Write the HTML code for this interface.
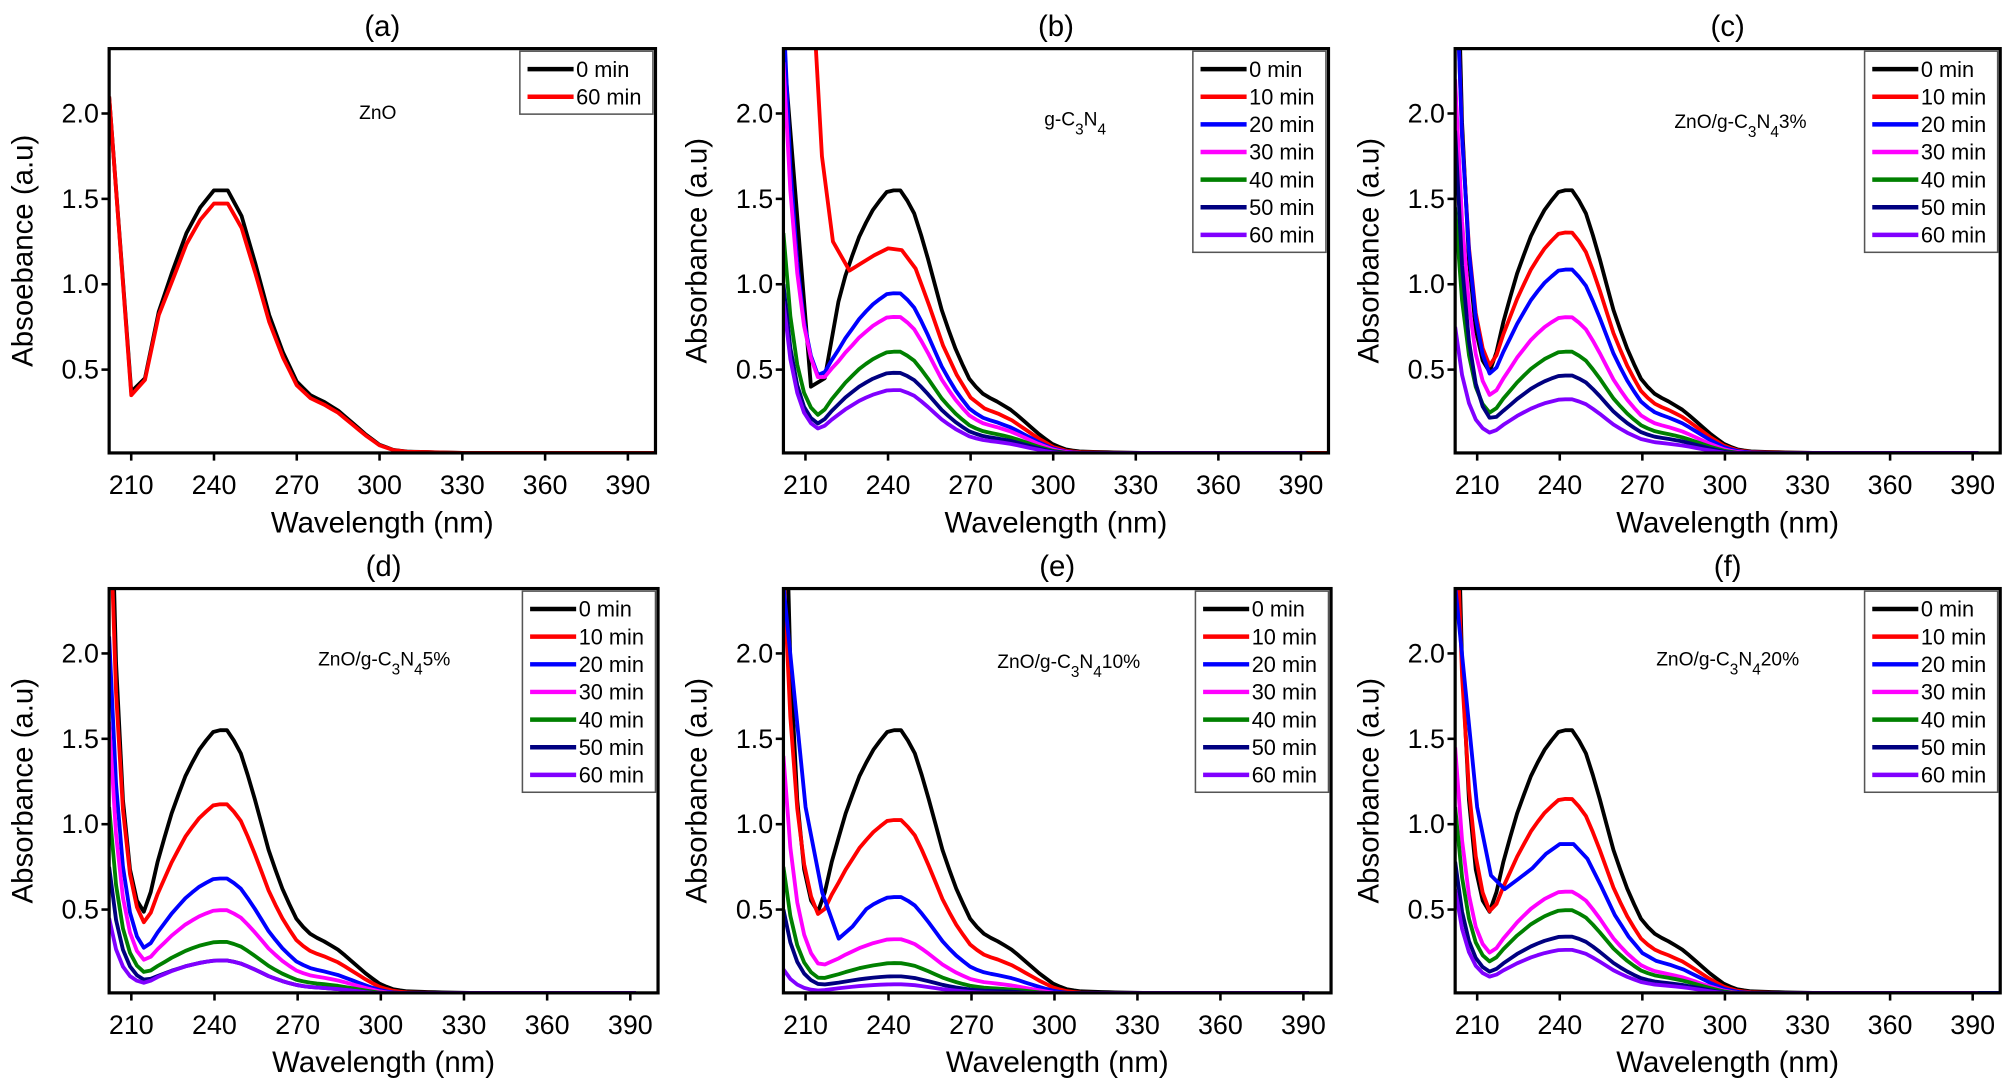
<!DOCTYPE html>
<html><head><meta charset="utf-8"><style>
html,body{margin:0;padding:0;background:#fff;}
svg{display:block;font-family:"Liberation Sans",sans-serif;}
</style></head><body>
<svg id="s" width="2007" height="1085" viewBox="0 0 1568 848" xmlns="http://www.w3.org/2000/svg"></svg>
<script>
const svg=document.getElementById('s');
let out='';
const P=[[200,0.05],[205,0.12],[210,0.22],[215,0.35],[220,0.78],[225,1.08],[230,1.3],[235,1.45],[240,1.55],[245,1.55],[250,1.4],[255,1.12],[260,0.82],[265,0.6],[270,0.43],[275,0.35],[280,0.31],[285,0.26],[290,0.19],[295,0.12],[300,0.06],[305,0.03],[310,0.02],[330,0.012],[400,0.008]];
function Pf(l){for(let i=0;i<P.length-1;i++){if(l>=P[i][0]&&l<=P[i+1][0]){const t=(l-P[i][0])/(P[i+1][0]-P[i][0]);return P[i][1]+t*(P[i+1][1]-P[i][1]);}}return 0.008;}
const C=['#000','#ff0000','#0000ff','#ff00ff','#008000','#000080','#8000ff'];
const L=['0 min','10 min','20 min','30 min','40 min','50 min','60 min'];
function panel(o){
 const {x0,x1,y0,y1,title,ann,ax,ay,series,ylab,legN}=o;
 const X=l=>x0+(l-202)*(x1-x0)/198;
 const Y=v=>y1-(v-0.012)*(y1-y0)/2.368;
 out+=`<defs><clipPath id="c${title}"><rect x="${x0}" y="${y0}" width="${x1-x0}" height="${y1-y0}"/></clipPath></defs>`;
 let g=`<g clip-path="url(#c${title})" fill="none" stroke-width="3" stroke-linejoin="round">`;
 series.forEach((s,i)=>{
  const [f,st,k,col,pre]=s;
  let pts=[];let startL=202;
  if(pre){pre.forEach(p=>pts.push([X(p[0]),Y(p[1])]));startL=pre[pre.length-1][0]+5;}
  for(let l=startL;l<=400;l+=(l<320?2.5:10)){
   let v=f*Pf(l)+(st-f*Pf(202))*Math.exp(-(l-202)/k);
   pts.push([X(l),Y(Math.max(v,0.012))]);
  }
  g+=`<polyline stroke="${col}" points="${pts.map(p=>p[0].toFixed(1)+','+p[1].toFixed(1)).join(' ')}"/>`;
 });
 g+='</g>';out+=g;
 out+=`<rect x="${x0}" y="${y0}" width="${x1-x0}" height="${y1-y0}" fill="none" stroke="#000" stroke-width="2.5"/>`;
 for(let t=210;t<=390;t+=30){const x=X(t);out+=`<line x1="${x}" y1="${y1}" x2="${x}" y2="${y1+6}" stroke="#000" stroke-width="2"/><text x="${x}" y="${y1+32}" font-size="21" text-anchor="middle">${t}</text>`;}
 [0.5,1.0,1.5,2.0].forEach(v=>{const y=Y(v);out+=`<line x1="${x0-6}" y1="${y}" x2="${x0}" y2="${y}" stroke="#000" stroke-width="2"/><text x="${x0-8}" y="${y+7}" font-size="21" text-anchor="end">${v.toFixed(1)}</text>`;});
 out+=`<text x="${(x0+x1)/2}" y="${y1+62}" font-size="23" text-anchor="middle">Wavelength (nm)</text>`;
 out+=`<text transform="translate(${x0-60},${(y0+y1)/2}) rotate(-90)" font-size="23" text-anchor="middle">${ylab}</text>`;
 out+=`<text x="${(x0+x1)/2}" y="${y0-10}" font-size="23" text-anchor="middle">(${title})</text>`;
 out+=`<text x="${ax}" y="${ay}" font-size="15" text-anchor="middle">${ann}</text>`;
 const n=legN, lw=104, rh=21.6, lx=x1-lw-2, ly=y0+2;
 out+=`<rect x="${lx}" y="${ly}" width="${lw}" height="${n*rh+6}" fill="#fff" stroke="#555" stroke-width="1.2"/>`;
 for(let i=0;i<n;i++){const yy=ly+14+i*rh;const ci=(n==2&&i==1)?1:i;const lab=(n==2&&i==1)?'60 min':L[i];
  out+=`<line x1="${lx+6}" y1="${yy}" x2="${lx+42}" y2="${yy}" stroke="${C[ci]}" stroke-width="3.5"/><text x="${lx+44}" y="${yy+6}" font-size="17">${lab}</text>`;}
}
const sub=(a,b)=>`ZnO/g-C<tspan baseline-shift="sub" font-size="12">3</tspan>N<tspan baseline-shift="sub" font-size="12">4</tspan>${b}`;
const mk=(arr)=>arr.map((a,i)=>[a[0],a[1],a[2]||5,C[i],a[3]]);
panel({x0:85,x1:512,y0:38,y1:354,title:'a',ann:'ZnO',ax:295,ay:93,ylab:'Absoebance (a.u)',legN:2,
 series:[[1,0,5,'#000',[[202,2.1],[210,0.37],[215,0.45],[220,0.84]]],[0.95,0,5,'#ff0000',[[202,2.1],[210,0.35],[215,0.44],[220,0.82]]]]});
panel({x0:612,x1:1038,y0:38,y1:354,title:'b',ann:'g-C<tspan baseline-shift="sub" font-size="12">3</tspan>N<tspan baseline-shift="sub" font-size="12">4</tspan>',ax:840,ay:98,ylab:'Absorbance (a.u)',legN:7,
 series:mk([[1,0,5,[[202,2.4],[212,0.4],[217,0.45]]],[0.78,0,0,[[213,2.6],[216,1.75],[220,1.25],[226,1.08],[230,1.12],[235,1.17],[240,1.21],[245,1.2]]],[0.61,2.6,5.5],[0.52,2.3,6],[0.39,1.3,5],[0.31,1.0,5],[0.245,0.9,5]])});
panel({x0:1137,x1:1563,y0:38,y1:354,title:'c',ann:sub('','3%'),ax:1360,ay:100,ylab:'Absorbance (a.u)',legN:7,
 series:mk([[1,3.5,4],[0.84,3,5],[0.7,3,5],[0.52,2.2,5],[0.39,1.45,5],[0.3,1.9,4.5],[0.21,0.75,5]])});
panel({x0:85,x1:514,y0:460,y1:776,title:'d',ann:sub('','5%'),ax:300,ay:520,ylab:'Absorbance (a.u)',legN:7,
 series:mk([[1,3.5,4],[0.72,3,4.5],[0.44,2.1,4.5],[0.32,1.6,4.5],[0.2,1.1,4.5],[0.13,0.75,4.5],[0.13,0.45,4.5]])});
panel({x0:612,x1:1040,y0:460,y1:776,title:'e',ann:sub('','10%'),ax:835,ay:522,ylab:'Absorbance (a.u)',legN:7,
 series:mk([[1,3.5,4],[0.66,2.5,5.5],[0.37,0,5,[[202,2.4],[210,1.1],[216,0.6],[222,0.33],[227,0.4]]],[0.21,1.4,5],[0.12,0.75,5],[0.07,0.5,5],[0.04,0.15,5]])});
panel({x0:1137,x1:1563,y0:460,y1:776,title:'f',ann:sub('','20%'),ax:1350,ay:520,ylab:'Absorbance (a.u)',legN:7,
 series:mk([[1,3.5,4],[0.74,3,5],[0.57,0,5,[[202,2.4],[210,1.1],[215,0.7],[220,0.62],[225,0.68]]],[0.39,1.45,5],[0.32,1.1,5],[0.22,0.78,5],[0.17,0.62,5]])});
svg.innerHTML=out;
</script>
</body></html>
